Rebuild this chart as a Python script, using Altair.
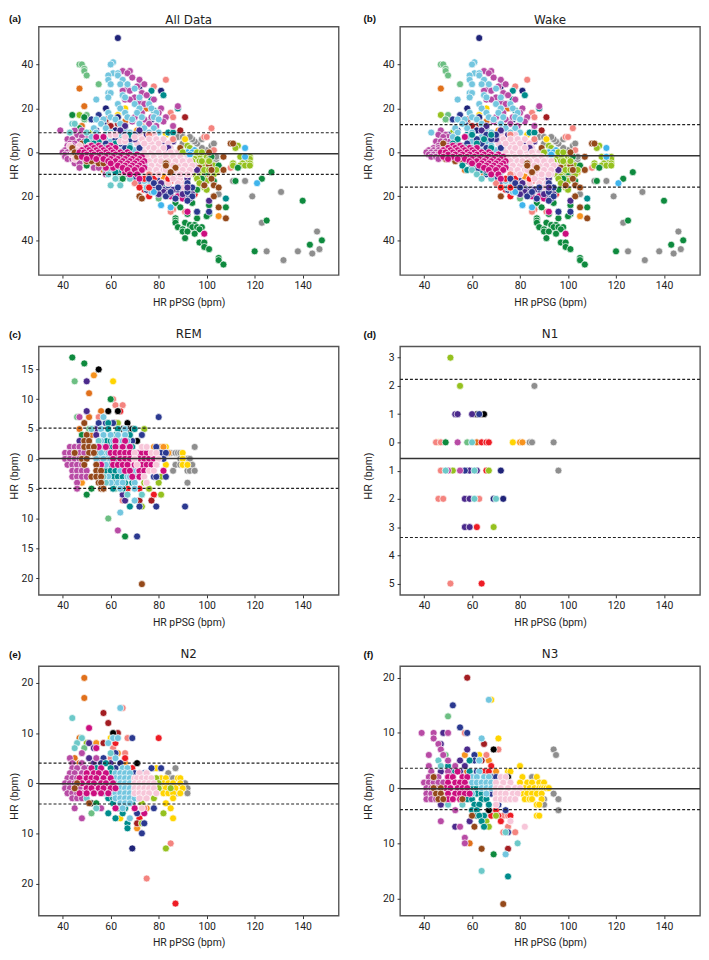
import altair as alt
import pandas as pd

PALETTE = {
    "grey": "#8E8E8E", "lime": "#95C11F", "gold": "#FFD400", "orange": "#F7931E",
    "orangeb": "#E0701B", "salmon": "#F4847F", "red": "#EE1C25", "darkred": "#A31D22",
    "black": "#000000", "lightgreen": "#6DBF83", "green": "#0E8A3E", "purple": "#4B2A8C",
    "navy": "#2B3990", "darknavy": "#1F2378", "teal": "#008C8C", "orchid": "#B84BA5",
    "lightblue": "#73C6DF", "lightteal": "#6CC9C9", "magenta": "#CC0E7F", "pink": "#F7C6D9",
    "brown": "#94491A", "sky": "#3FB4EC",
}
ORDER = ["grey", "gold", "orange", "orangeb", "salmon", "red", "darkred", "black", "lime",
         "lightgreen", "green", "purple", "navy", "darknavy", "teal", "orchid", "lightblue",
         "lightteal", "magenta", "pink", "brown", "sky"]

WAKE = {
    "grey": {-49: [132], -46: [144], -45: [125, 138], -44: [147], -36: [146], -32: [123], -20: [119, 103],
             -19: [105], -18: [131], -13: [116, 111], -4: [103], -3: [104], -2: [104], -1: [101], 0: [97, 102],
             1: [99, 100], 2: [98], 3: [102], 4: [96, 103, 90], 5: [95], 6: [94, 98], 7: [88, 90, 93]},
    "gold": {20: [66], 17: [63], 8: [83], 6: [91], -5: [100], -8: [104]},
    "orange": {-29: [105], -5: [99], -8: [97, 102], -9: [104]},
    "orangeb": {29: [47], 20: [75], 14: [58, 66], 12: [73], -8: [57], -10: [65]},
    "salmon": {33: [83], 30: [78], 18: [85], 16: [86], 11: [102], 7: [99, 100], 4: [110], 1: [103], 12: [63],
               -7: [110], -15: [72, 78], -16: [74], -19: [76], -26: [86], -27: [85, 91]},
    "red": {4: [60], -7: [65], -10: [100], -11: [97], -13: [85], -17: [74, 80], -18: [80], -19: [95], -20: [76]},
    "darkred": {16: [91], 15: [58], 13: [63], 12: [60], 10: [89]},
    "lime": {17: [47], 15: [49], 9: [52], 8: [53], 3: [92, 113], 2: [93, 112], -1: [96], -2: [97, 100, 114, 118],
             -3: [95, 101, 118], -4: [97, 116], -5: [111, 115, 118], -6: [98, 103, 111, 114, 116, 118],
             -7: [96], -9: [94, 98], -10: [95, 102, 103], -11: [97], -12: [99], -13: [100], -15: [98],
             -16: [99], -17: [100]},
    "lightgreen": {40: [47, 48], 38: [49], 37: [49], 35: [50], 31: [55], 27: [73], 17: [50], 15: [49], -21: [80]},
    "green": {-2: [102], -3: [85], -6: [105], -7: [113], -9: [100, 127], -12: [98, 123], -13: [103, 112],
              -17: [96], -18: [90], -20: [88, 92], -21: [87], -22: [140], -23: [87, 94], -24: [101], -25: [89, 108],
              -27: [96], -28: [92, 101], -29: [100], -30: [87, 96], -31: [87, 125], -32: [87, 91], -33: [93, 95],
              -34: [88, 94, 96, 98], -35: [90, 97], -36: [90, 92], -37: [95], -39: [91], -40: [148], -41: [97, 99],
              -42: [143], -43: [99], -44: [101], -45: [120], -48: [105], -49: [105], -51: [107]},
    "purple": {8: [48, 75], 6: [48, 78], 5: [82, 86], 3: [50, 56, 60], 1: [62, 67], -2: [71], -6: [94],
               -7: [85], -10: [92], -12: [88], -14: [90], -16: [83, 92], -17: [78], -18: [82], -22: [101], -19: [80, 94]},
    "navy": {17: [55], 15: [52], 13: [57], 10: [54], 8: [50, 69], 4: [73, 66], 0: [70, 80], -3: [60], -8: [68],
             -10: [66, 78], -12: [70, 80], -13: [72, 82], -15: [84], -17: [88], -18: [85, 90], -20: [91],
             -21: [87, 93], -27: [96, 101]},
    "darknavy": {52: [63], 30: [72], 28: [81], 20: [58], 16: [63], 15: [77], 10: [62], -17: [75]},
    "teal": {28: [77], 26: [82], 24: [77], 22: [75], 20: [88], 19: [78], 9: [84, 86], 8: [58], 6: [60], 4: [74],
             2: [54], 1: [63], 0: [52], -2: [56], -3: [65, 78], -4: [58], -5: [60, 70], -6: [62], -7: [68],
             -8: [64, 77], -9: [66], -14: [82], -16: [75], -21: [108]},
    "orchid": {37: [65, 68], 36: [67], 34: [69], 33: [72], 31: [74], 30: [71], 29: [67], 28: [65, 68], 27: [73],
               26: [75], 25: [70], 24: [66, 68, 78], 23: [72], 22: [74], 21: [88], 20: [81], 18: [73, 80],
               16: [70, 77, 83], 15: [74], 14: [69, 82], 13: [72, 76], 12: [79, 86], 10: [47], 8: [49, 46],
               7: [50, 48], 5: [45, 47, 49, 51], 3: [46, 48, 50, 52], 2: [44, 46, 48, 50],
               1: [42, 44, 46, 48, 50], 0: [41, 43, 45, 47, 49], -1: [42, 44, 46, 48, 50],
               -2: [43, 45, 47, 49, 51], -3: [46, 50]},
    "lightblue": {41: [61], 40: [60], 36: [61, 63], 35: [59, 63], 33: [59, 65], 31: [60, 64, 67], 29: [70],
                  27: [59, 60], 26: [65], 25: [59, 66, 72], 24: [54], 22: [63, 70, 76], 20: [64, 72, 77],
                  18: [59, 66, 71, 79], 16: [60, 67, 73, 78], 15: [54, 57, 62, 69, 80],
                  13: [56, 64, 72], 11: [53, 58, 66, 74, 78],
                  9: [43, 54, 60, 68, 76, 80], 7: [52, 58, 64, 70, 78],
                  5: [54, 60, 66, 72], 3: [56, 62, 68, 75], 1: [58, 64, 70],
                  -4: [61, 63], -6: [65, 75], -9: [72, 78], -13: [76, 74], -16: [75], -18: [77]},
    "magenta": {7: [57], 4: [54, 64], -14: [78], -20: [85, 88], -21: [90], -27: [92], -37: [99]},
    "pink": {8: [72, 78], 6: [73, 79, 82], 4: [71, 77, 84], 2: [73, 76, 79, 85],
             0: [74, 77, 83, 86, 88], -2: [75, 78, 81, 87, 90, 92],
             -4: [76, 79, 85, 88, 91, 94], -6: [77, 80, 86, 89, 92, 95],
             -8: [76, 82, 85, 88, 91, 94], -10: [78, 84, 87, 90, 93], -12: [83, 89, 92],
             -14: [84, 88, 91], -16: [90]},
    "brown": {4: [48, 110, 111], 2: [89], 0: [101], -2: [107], -3: [49], -4: [53, 56], -5: [83], -6: [83, 101],
              -7: [97], -8: [102, 107], -9: [85], -12: [102], -15: [99, 103], -16: [105], -20: [72, 103],
              -25: [105], -30: [108]},
    "sky": {2: [116], 1: [95], 0: [92, 94], -1: [93], -2: [116], -14: [121], -18: [78], -24: [81], -25: [85]},
}

# points of other series that lie in the middle of the cloud
WAKE_MID = {
    "orange": {10: [71], -3: [84], -11: [82]},
    "salmon": {8: [76], 6: [86], -10: [76], -14: [70]},
    "red": {-12: [74, 78, 84], -14: [81], -16: [72, 76]},
    "lime": {0: [90, 96, 98], -4: [94, 98, 101], -8: [99, 101, 104], -12: [96], -14: [97]},
    "purple": {12: [66], 10: [64, 72], 6: [70], 2: [84], -8: [96], -12: [92], -14: [81], -17: [86], -19: [84, 90]},
    "navy": {8: [66, 70], 6: [62, 68], 4: [58, 64], 2: [66, 72], -8: [62, 66], -12: [76], -14: [78, 92],
             -16: [80, 88, 94], -18: [92], -20: [83, 94], -22: [92]},
    "teal": {8: [60, 68], 6: [54, 65], 4: [52, 62], 2: [58, 68], -6: [56, 60], -8: [58, 70]},
    "lightteal": {-8: [60], -10: [62], -12: [64, 68]},
}

# the magenta and pink cloud, drawn over the other series
WAKE_TOP = {
    "magenta": {3: [52, 55], 2: [50, 53, 56, 59, 62], 1: [48, 51, 54, 57, 60], 0: [47, 49, 52, 55, 58, 61, 64, 67],
                -1: [50, 53, 56, 59, 62, 65, 68, 71], -2: [48, 52, 55, 58, 61, 64, 67, 70, 73],
                -3: [50, 54, 57, 60, 63, 66, 69, 72], -4: [59, 62, 65, 68, 71, 74], -5: [60, 64, 67, 70, 73],
                -6: [63, 66, 69, 72], -7: [65, 68, 71, 74], -8: [67, 70, 73], -10: [68, 71], -12: [72]},
    "pink": {6: [76, 79], 4: [74, 80], 2: [78, 82], 0: [80, 85], -2: [83, 86, 89], -4: [81, 84, 87, 90, 93],
             -6: [83, 86, 91, 94], -8: [79, 83, 87, 90, 93], -10: [80, 85, 89, 92], -12: [86]},
    "brown": {-5: [83], -6: [83], -7: [87], -9: [85], -8: [102], -15: [99]},
    "purple": {-6: [94], -10: [92], -16: [92]},
    "navy": {-18: [85], -21: [87]},
}

# the remaining sleep points shown in panel (a) on top of the wake points
ALL_EXTRA = {
    "orangeb": {21: [49], 12: [48]},
    "green": {17: [44], 16: [49], 11: [47], -6: [50], -12: [65]},
    "lightteal": {13: [44, 45], 9: [43, 50], -15: [60, 64], -10: [59], -12: [62]},
    "orchid": {10: [39, 45, 48], 6: [42, 44], 4: [43, 45], 3: [42, 44], 1: [41, 43, 45], 0: [40, 42, 44],
               -1: [41, 43, 45], -2: [41, 44], -3: [42, 44, 48], -5: [45, 47], -7: [47, 53, 55], -10: [58]},
    "pink": {3: [43, 47, 51], 1: [46, 50], -1: [44, 48], -3: [45], 8: [60, 62], 5: [64, 66], 7: [66, 70]},
    "magenta": {7: [54, 57], 3: [60], 2: [46, 49], 1: [44, 47, 51], 0: [46, 49], -1: [47], -2: [48, 51],
                -3: [52, 55], -5: [60, 63], -7: [58, 61], -9: [66]},
    "teal": {5: [50, 55], 4: [53], -2: [50], -9: [62]},
    "brown": {2: [44], 0: [45], -1: [48], -2: [46], -4: [50, 52], -5: [55, 57], -20: [72], -21: [73]},
}

REM = {
    "grey": {2: [95], 1: [85, 87, 88, 89], 0: [89, 92, 93], -1: [87, 89, 91, 94], -2: [86, 92, 93, 95], -4: [92]},
    "gold": {13: [61], 2: [83], 1: [90], 0: [90], -1: [83, 90, 92]},
    "orange": {14: [53], 2: [78, 81, 82], 1: [84], -4: [48]},
    "orangeb": {11: [51], 8: [56], 7: [51], 5: [47], 4: [52], -3: [50], -5: [57]},
    "salmon": {10: [61], 9: [62, 65], 8: [63], 7: [55], -7: [65]},
    "red": {8: [64], 6: [62], -5: [67, 72], -6: [78]},
    "darkred": {-7: [72, 77]},
    "black": {15: [55], 8: [59, 63], 6: [67], 5: [65, 67, 69], 3: [71]},
    "lime": {6: [63], 5: [74], -3: [81], -4: [74, 75, 80], -5: [76], -6: [81], -8: [73]},
    "lightgreen": {13: [45], 7: [46], 5: [51, 53], -10: [59], -5: [62]},
    "green": {17: [44], 16: [49], 10: [60], 4: [48], 2: [52], -5: [52], -6: [50], -13: [66]},
    "purple": {13: [50], 8: [50], 5: [54], 4: [54], 3: [47], 2: [55], 1: [57], -2: [50, 60], -6: [65], -7: [66]},
    "navy": {7: [80], 6: [55, 58, 61], 4: [73], 3: [65, 69], 2: [59, 79], 1: [81, 83], 0: [56, 80, 82], -1: [79],
             -2: [70], -3: [78, 79, 83], -4: [64], -8: [72, 79, 91], -13: [71]},
    "teal": {6: [59], 5: [59, 63, 70], 4: [62, 68], 3: [58, 60, 63], 2: [61, 64, 69], 1: [55, 58], 0: [58, 62],
             -1: [59, 60], -2: [56, 58, 60, 62], -3: [61, 63, 65], -4: [61, 66, 69], -5: [61, 65], -8: [68]},
    "orchid": {7: [47], 2: [43, 45, 47, 49], 1: [41, 43, 45, 47, 49], 0: [41, 43, 45, 47], -1: [42, 44, 46, 48],
               -2: [44, 46, 48, 50], -3: [44, 46, 48, 50], -4: [46], -5: [46], -12: [63]},
    "lightblue": {7: [57], 5: [56, 66], 4: [57, 60, 63, 66], 3: [56, 61, 65, 67], 2: [54, 57, 63, 66], 1: [56, 59],
                  0: [54, 57, 60], -1: [55, 58], -2: [64, 67, 69], -3: [59, 67, 68, 71], -4: [60, 63, 65, 70],
                  -5: [64, 70], -7: [70], -9: [64]},
    "lightteal": {-6: [67, 73], -4: [58], 5: [52], 3: [55], -3: [57]},
    "magenta": {3: [62, 66], 2: [55, 58, 62, 65, 68], 1: [60, 62, 64, 66, 68, 71, 73, 75],
                0: [61, 64, 66, 68, 72, 74, 76, 78], -1: [56, 61, 63, 65, 67, 70, 73, 75, 77],
                -2: [66, 68, 72, 74, 82], -3: [69, 72]},
    "pink": {2: [73, 75], 1: [70, 77, 79], 0: [70, 80], -1: [71, 79], -2: [76, 78], -3: [74], -4: [75]},
    "brown": {6: [49], 4: [50], 3: [49, 51], 2: [49, 51, 53], 1: [45, 51, 53], 0: [48, 50], -1: [49, 54],
              -2: [54, 56], -3: [52, 54, 56], -4: [55, 56], -5: [56, 57], -21: [73]},
}

N1 = {
    "grey": {2: [86], 0: [84, 85, 94], -1: [96]},
    "gold": {0: [46, 77]},
    "orange": {1: [64], 0: [80, 81]},
    "orangeb": {0: [62]},
    "salmon": {0: [45, 47], -1: [47], -2: [46, 48, 63], -5: [51]},
    "red": {0: [64, 66, 67], -1: [66], -3: [62], -5: [64]},
    "black": {1: [62, 65]},
    "lime": {3: [51], 2: [55], -1: [52, 67], -3: [69]},
    "lightgreen": {0: [58]},
    "green": {0: [49]},
    "purple": {1: [53, 54, 60], -1: [58, 59, 62], -2: [57, 59], -3: [57, 59]},
    "navy": {1: [63], -1: [57]},
    "darknavy": {-1: [72], -2: [69, 73]},
    "orchid": {0: [54], -1: [50, 55]},
    "lightteal": {0: [60], -1: [49, 61], -2: [61, 70]},
}

N2 = {
    "grey": {3: [87], 2: [84], 1: [85, 86], 0: [90, 91], -1: [91, 92], -2: [88, 92]},
    "gold": {9: [60], 3: [79], 1: [81, 83, 88, 89], 0: [82, 84, 86, 89], -1: [81, 83, 85, 87, 90],
             -2: [82, 84, 86, 89], -3: [86], -4: [83], -5: [85], -7: [64, 86]},
    "orange": {8: [54], 6: [63], 4: [66], -5: [75], -9: [71]},
    "orangeb": {21: [49], 17: [49], 9: [47], 5: [45], 4: [47], 2: [68]},
    "salmon": {15: [65], 9: [67], 7: [61], 6: [66], 5: [60], -5: [74], -12: [85], -19: [75]},
    "red": {9: [80], 8: [62], 5: [66], 3: [69], -3: [73], -5: [66], -7: [72], -24: [87]},
    "darkred": {14: [57], 12: [59], 10: [63], 8: [57], -8: [71]},
    "black": {10: [61], 4: [71], -4: [52]},
    "lime": {8: [50], 1: [79], 0: [80], -1: [80, 85], -3: [78], -4: [73], -6: [82], -8: [73], -13: [83]},
    "lightgreen": {7: [49], -6: [52]},
    "green": {4: [48], -4: [54]},
    "purple": {8: [51], 7: [53, 54], 5: [51, 54], 3: [50, 56], 2: [49], 4: [53, 60]},
    "navy": {9: [69], 6: [62], 5: [57], 3: [62, 77, 81], 2: [70, 72, 74, 75], -3: [71], -6: [71], -8: [74],
             -5: [78], -10: [73], 4: [56]},
    "darknavy": {4: [64], -13: [69]},
    "teal": {4: [58], 3: [54, 60], 2: [52, 60], 1: [64, 56], 0: [60], -1: [58], -2: [66, 58], -3: [59, 61, 65],
             -4: [61, 69], -5: [66, 63], -6: [59, 65], -7: [62], -8: [67], -9: [67]},
    "orchid": {6: [48], 5: [43, 54], 4: [44, 48], 3: [44, 46, 49], 2: [43, 45, 48, 50], 1: [42, 44, 46, 48],
               0: [41, 43, 45], -1: [41, 43, 45, 47], -2: [42, 44, 46, 48], -3: [44, 46, 48], -5: [45, 56], -7: [48]},
    "lightblue": {15: [64], 9: [61, 63], 8: [59], 5: [62], 3: [65, 67], 2: [62, 64, 66, 68], 1: [58, 60, 62, 64, 66, 68],
                  0: [62, 64, 66, 68], -1: [60, 62, 64, 66, 68], -2: [58, 60, 62, 64, 66, 68], -3: [62, 64, 66, 68, 70],
                  -4: [64, 66, 68], -5: [65], -7: [68]},
    "lightteal": {13: [44], 9: [48], 8: [46], 7: [45], 6: [60], -5: [54], -3: [50]},
    "magenta": {11: [51], 7: [54], 3: [52, 56], 2: [50, 53, 55, 58], 1: [47, 50, 52, 54, 57, 60],
                0: [48, 51, 53, 56, 58, 61], -1: [50, 52, 55, 57, 60, 62], -2: [47, 50, 53, 56, 59], -5: [62, 70], -6: [74]},
    "pink": {2: [72, 75], 1: [70, 71, 73, 75, 77], 0: [70, 72, 74, 76, 78], -1: [70, 72, 74, 76, 78],
             -2: [70, 72, 74, 76, 79], -3: [72, 75], -5: [73]},
    "brown": {0: [46], -1: [45], -4: [51]},
}

N3 = {
    "grey": {7: [94], 6: [95], 2: [85], 1: [85], -1: [94], -2: [96, 90], -3: [90], -4: [96]},
    "gold": {16: [68], 9: [71], 6: [63], 4: [80], 3: [75, 76], 2: [81, 87], 1: [80, 83, 85, 88, 90],
             0: [82, 84, 86, 88, 89, 90, 91, 92], -1: [81, 83, 85, 87, 89], -2: [82, 84, 85, 89], -3: [87, 88], -5: [87, 88]},
    "orange": {6: [57], 5: [67], 3: [70], -2: [74]},
    "orangeb": {-10: [59], 2: [44], 3: [58]},
    "salmon": {10: [57], 7: [71], 6: [66], -5: [73, 75], -7: [75], -8: [73, 78]},
    "red": {4: [68], 3: [65, 67], -4: [70], -5: [68, 71, 76], -6: [72]},
    "darkred": {20: [58], 8: [65], 5: [64], -11: [75]},
    "black": {7: [69], 2: [75], -4: [67]},
    "lime": {-5: [70], -6: [66], -7: [67]},
    "lightgreen": {13: [50], 6: [49]},
    "green": {-12: [69]},
    "purple": {10: [48], 8: [47], 7: [58], 5: [55], 4: [57], 3: [47, 51, 55], -3: [47], -6: [59], -7: [53]},
    "navy": {15: [52], 11: [55], 10: [58], 6: [61], 5: [61, 63], 3: [62], 2: [68, 70], 1: [62, 65, 68], 0: [69], -1: [68],
             -3: [71], -4: [74], -8: [75]},
    "teal": {5: [59], 4: [50], 3: [53, 59], 0: [60, 62], -1: [62, 64], -2: [58, 60, 64, 66], -3: [61, 63, 67],
             -4: [60, 62], -5: [62, 65, 63], -6: [64], -7: [65], -16: [75]},
    "orchid": {10: [39, 44, 50], 9: [44], 8: [46], 7: [47], 6: [42, 48], 5: [50], 4: [42, 53], 3: [43, 50],
               2: [42, 44, 46, 50], 1: [40, 42, 44, 46, 48], 0: [41, 43, 45], -1: [41, 43, 45, 47], -2: [41, 43, 45],
               -4: [53], -6: [47], -7: [55], -9: [57], -10: [57]},
    "lightblue": {16: [67], 9: [64], 5: [63], 3: [63], 2: [60, 62, 65, 67], 1: [60, 62, 64, 66, 68], 0: [64, 66, 68],
                  -1: [60, 66], -12: [74]},
    "lightteal": {5: [46], 4: [47], -3: [50, 56], -8: [74], -10: [79], -15: [64]},
    "magenta": {3: [54], 2: [50, 52, 56, 58], 1: [50, 53, 55, 57], 0: [49, 51, 54, 56, 58], -1: [50, 53, 55, 57, 59],
                -2: [50, 52, 55]},
    "pink": {2: [72, 74], 1: [70, 73, 76], 0: [70, 72, 75, 78, 80], -1: [70, 72, 74, 77, 79], -2: [70, 72, 74, 76, 78],
             -3: [70], -6: [76], -7: [82]},
    "brown": {2: [44], 0: [44, 47], -1: [45, 47], -2: [46, 48, 56], -5: [60], -7: [61], -11: [64], -21: [73]},
}

N1_LINES = (2.23, -0.57, -3.37)
A_LINES = (8.9, -0.6, -10.0)
B_LINES = (12.6, -1.5, -15.8)
C_LINES = (5.15, 0.05, -4.95)
E_LINES = (4.0, -0.1, -4.15)
F_LINES = (3.6, -0.12, -3.9)
X_TICKS = [40, 60, 80, 100, 120, 140]
TICK_FONT = "Roboto"


def rows_to_frame(layers_list):
    recs = []
    for layers in layers_list:
        for name in ORDER:
            for y, xs in layers.get(name, {}).items():
                for x in xs:
                    recs.append({"x": x, "y": y, "c": PALETTE[name]})
    return pd.DataFrame(recs)


def panel(tag, title, layers_list, lines, ydom, yticks, h, left, title_y=-12):
    x = alt.X("x:Q", scale=alt.Scale(domain=[30, 155], nice=False),
              axis=alt.Axis(values=X_TICKS, grid=False, domain=False, tickSize=3, tickColor="#333",
                            labelFont=TICK_FONT, labelFontSize=10.5, labelColor="#222", labelPadding=3,
                            title="HR pPSG (bpm)", titleFont=TICK_FONT, titleFontSize=10.5, titleFontWeight="normal",
                            titleColor="#222", titlePadding=6))
    y = alt.Y("y:Q", scale=alt.Scale(domain=ydom, nice=False, zero=False),
              axis=alt.Axis(values=yticks, grid=False, domain=False, tickSize=3, tickColor="#333",
                            labelExpr="format(abs(datum.value),'d')", labelFont=TICK_FONT, labelFontSize=10.5,
                            labelColor="#222", labelPadding=3, title="HR (bpm)", titleFont="Liberation Sans",
                            titleFontSize=11, titleFontWeight="normal", titleColor="#222",
                            titleX=-19 if left else -27, titleY=h * 0.52))
    dots = alt.Chart(rows_to_frame(layers_list)).mark_point(
        filled=True, size=50, stroke="white", strokeWidth=0.7, opacity=1, clip=True
    ).encode(x=x, y=y, fill=alt.Fill("c:N", scale=None, legend=None))
    line_df = pd.DataFrame({"y": list(lines), "k": ["d", "s", "d"]})
    dashed = alt.Chart(line_df[line_df.k == "d"]).mark_rule(
        color="#222", strokeWidth=1.1, strokeDash=[3, 2], clip=True).encode(y=y)
    solid = alt.Chart(line_df[line_df.k == "s"]).mark_rule(
        color="#333", strokeWidth=1.5, clip=True).encode(y=y)
    label = alt.Chart(pd.DataFrame({"t": [tag]})).mark_text(
        align="left", baseline="middle", font="Liberation Sans", fontWeight="bold", fontSize=10, color="#111"
    ).encode(text="t:N", x=alt.value(-30 if left else -37), y=alt.value(-11 if title_y == -12 else -8))
    head = alt.Chart(pd.DataFrame({"t": [title]})).mark_text(
        align="center", baseline="middle", font="DejaVu Sans", fontSize=12, color="#222"
    ).encode(text="t:N", x=alt.value(151.5), y=alt.value(title_y))
    return alt.layer(dots, dashed, solid, label, head).properties(width=303, height=h)


a = panel("(a)", "All Data", [WAKE, WAKE_MID, ALL_EXTRA, WAKE_TOP], A_LINES, [-55.8, 57.2], [-40, -20, 0, 20, 40], 251, True, title_y=-7)
b = panel("(b)", "Wake", [WAKE, WAKE_MID, WAKE_TOP], B_LINES, [-55.8, 57.2], [-40, -20, 0, 20, 40], 251, False, title_y=-7)
c = panel("(c)", "REM", [REM], C_LINES, [-22.8, 18.86], [-20, -15, -10, -5, 0, 5, 10, 15], 251, True)
d = panel("(d)", "N1", [N1], N1_LINES, [-5.4, 3.4], [-5, -4, -3, -2, -1, 0, 1, 2, 3], 251, False)
e = panel("(e)", "N2", [N2], E_LINES, [-26.4, 23.35], [-20, -10, 0, 10, 20], 252, True)
f = panel("(f)", "N3", [N3], F_LINES, [-23.1, 22.1], [-20, -10, 0, 10, 20], 252, False)

chart = alt.concat(a, b, c, d, e, f, columns=2, spacing={"row": 72, "column": 62}, bounds="flush").properties(
    padding=0
).configure_view(stroke="#555", strokeWidth=1.4)

chart.save("out.html", embed_options={"renderer": "svg", "actions": False})
